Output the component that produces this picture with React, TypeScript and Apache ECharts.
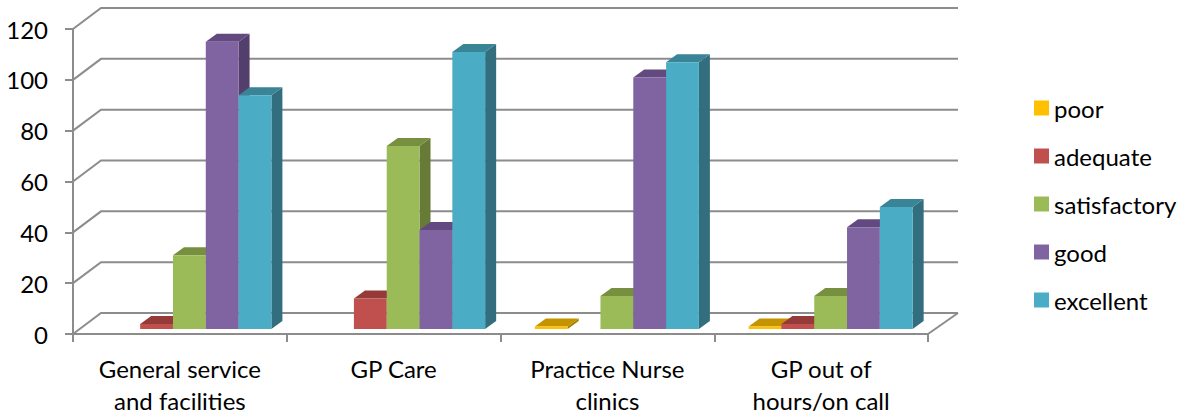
import React, { useEffect, useRef } from "react";
import * as echarts from "echarts";

const categories = [
  "General service\nand facilities",
  "GP Care",
  "Practice Nurse\nclinics",
  "GP out of\nhours/on call",
];
const ratingNames = ["poor", "adequate", "satisfactory", "good", "excellent"];
const poor = [0, 0, 1, 1];
const adequate = [2, 12, 0, 2];
const satisfactory = [29, 72, 13, 13];
const good = [113, 39, 99, 40];
const excellent = [92, 109, 105, 48];
const yTicks = [0, 20, 40, 60, 80, 100, 120];

const seriesValues = [poor, adequate, satisfactory, good, excellent];
const frontColors = ["#FFC000", "#C0504D", "#9BBB59", "#8064A2", "#4BACC6"];
const topColors = ["#C49400", "#953A38", "#77903F", "#624A80", "#3A8498"];
const sideColors = ["#A67E00", "#83322F", "#677A37", "#533F6C", "#326E7E"];

const FONT = "Lato";
const FS = 24;
const GRID_COLOR = "#8c8c8c";
const GDX = 28;
const GDY = -21;
const BDX = 11;
const BDY = -8;
const SHIFT_X = 9.5;
const SHIFT_Y = -5;
const BAR_RATIO = 0.1535;

export default function App() {
  const ref = useRef<HTMLDivElement>(null);

  useEffect(() => {
    if (!ref.current) return;
    const chart = echarts.init(ref.current, undefined, { renderer: "svg" });

    const gridRender = (params: any, api: any) => {
      const v = api.value(1);
      const p = api.coord([0, v]);
      const cs = params.coordSys;
      const xl = cs.x;
      const xr = cs.x + cs.width;
      const y = p[1];
      const style = { stroke: GRID_COLOR, lineWidth: 2, fill: null };
      const children: any[] = [
        {
          type: "polyline",
          shape: { points: [[xl, y], [xl + GDX, y + GDY], [xr + GDX + 2, y + GDY]] },
          style,
        },
      ];
      if (v === 0) {
        children.push({
          type: "line",
          shape: { x1: xr, y1: y, x2: xr + GDX + 2, y2: y + GDY },
          style,
        });
      }
      return { type: "group", children };
    };

    const barRender = (s: number) => (params: any, api: any) => {
      const idx = api.value(0);
      const v = api.value(1);
      if (!v) return { type: "group", children: [] };
      const base = api.coord([idx, 0]);
      const top = api.coord([idx, v]);
      const band = api.size([1, 0])[0];
      const bw = band * BAR_RATIO;
      const x0 = base[0] - 2.5 * bw + s * bw + SHIFT_X;
      const x1 = x0 + bw;
      const yb = base[1] + SHIFT_Y;
      const yt = top[1] + SHIFT_Y;
      return {
        type: "group",
        children: [
          {
            type: "polygon",
            shape: { points: [[x1, yb], [x1 + BDX, yb + BDY], [x1 + BDX, yt + BDY], [x1, yt]] },
            style: { fill: sideColors[s] },
          },
          {
            type: "polygon",
            shape: { points: [[x0, yt], [x1, yt], [x1 + BDX, yt + BDY], [x0 + BDX, yt + BDY]] },
            style: { fill: topColors[s] },
          },
          {
            type: "rect",
            shape: { x: x0, y: yt, width: bw, height: yb - yt },
            style: { fill: frontColors[s] },
          },
        ],
      };
    };

    const option: any = {
      animation: false,
      backgroundColor: "#ffffff",
      grid: { left: 73, right: 260, top: 29, bottom: 79 },
      legend: {
        orient: "vertical",
        left: 1034,
        top: 96,
        padding: 0,
        itemWidth: 15,
        itemHeight: 15,
        itemGap: 24,
        icon: "rect",
        data: ratingNames,
        textStyle: { fontFamily: FONT, fontSize: FS, color: "#000", lineHeight: 24 },
      },
      xAxis: {
        type: "category",
        data: categories,
        axisLine: { show: true, lineStyle: { color: GRID_COLOR, width: 2 } },
        axisTick: { show: true, interval: 0, length: 8, lineStyle: { color: GRID_COLOR, width: 2 } },
        axisLabel: {
          interval: 0,
          margin: 18,
          fontFamily: FONT,
          fontSize: FS,
          lineHeight: 32,
          color: "#000",
        },
        splitLine: { show: false },
      },
      yAxis: {
        type: "value",
        min: 0,
        max: 120,
        interval: 20,
        axisLine: { show: true, lineStyle: { color: GRID_COLOR, width: 2 } },
        axisTick: { show: true, length: 8, lineStyle: { color: GRID_COLOR, width: 2 } },
        axisLabel: { margin: 25, fontFamily: FONT, fontSize: FS, color: "#000" },
        splitLine: { show: false },
      },
      series: [
        {
          type: "custom",
          name: "_grid",
          renderItem: gridRender,
          data: yTicks.map((v) => [0, v]),
          clip: false,
          silent: true,
          z: 1,
        },
        ...ratingNames.map((name, s) => ({
          type: "custom",
          name,
          renderItem: barRender(s),
          data: seriesValues[s].map((v, i) => [i, v]),
          itemStyle: { color: frontColors[s] },
          clip: false,
          z: 2,
        })),
      ],
    };
    chart.setOption(option);
    return () => chart.dispose();
  }, []);

  return (
    <div
      ref={ref}
      style={{ position: "fixed", left: 0, top: 0, width: 1188, height: 416, background: "#fff" }}
    />
  );
}
